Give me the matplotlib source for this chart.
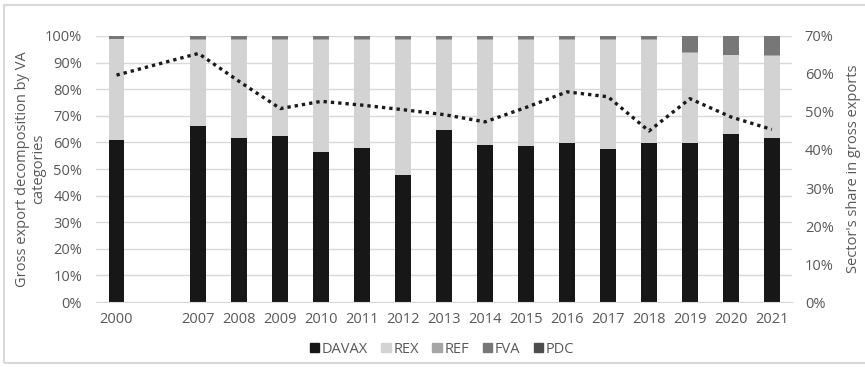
import matplotlib
matplotlib.use("Agg")
import matplotlib.pyplot as plt
import matplotlib.patches as mpatches
import numpy as np

plt.rcParams['font.family'] = ['Open Sans', 'DejaVu Sans']

# categories (blank slot between 2000 and 2007, as in the original)
years = ['2000', '', '2007', '2008', '2009', '2010', '2011', '2012', '2013', '2014',
         '2015', '2016', '2017', '2018', '2019', '2020', '2021']

# shares in %, None = empty slot
davax = [60.8, None, 66.3, 61.6, 62.5, 56.5, 57.9, 47.7, 64.8, 59.0, 58.6, 59.8, 57.7, 59.8, 59.8, 63.3, 61.8]
rex = [37.9, None, 32.2, 37.0, 35.9, 42.0, 40.6, 50.8, 33.7, 39.5, 39.9, 38.7, 40.8, 38.6, 33.9, 29.4, 30.7]
ref = [0.3, None, 0.3, 0.3, 0.3, 0.3, 0.3, 0.3, 0.3, 0.3, 0.3, 0.3, 0.3, 0.3, 0.3, 0.3, 0.3]
fva = [0.9, None, 1.1, 1.0, 1.2, 1.1, 1.1, 1.1, 1.1, 1.1, 1.1, 1.1, 1.1, 1.2, 5.9, 6.9, 7.1]
pdc = [0.1, None, 0.1, 0.1, 0.1, 0.1, 0.1, 0.1, 0.1, 0.1, 0.1, 0.1, 0.1, 0.1, 0.1, 0.1, 0.1]

# sector's share in gross exports (right axis)
share = [59.7, None, 65.4, 58.0, 50.9, 52.8, 51.8, 50.6, 49.3, 47.4, 51.2, 55.3, 54.0, 45.0, 53.5, 48.7, 45.4]

series = [('DAVAX', davax, '#171717'),
          ('REX', rex, '#d3d3d3'),
          ('REF', ref, '#a6a6a6'),
          ('FVA', fva, '#777777'),
          ('PDC', pdc, '#4d4d4d')]

grey = '#595959'
fs = 10.5

fig = plt.figure(figsize=(8.65, 3.67), dpi=100)
ax = fig.add_axes([0.111, 0.177, 0.805, 0.725])

x = np.arange(len(years))
bottom = np.zeros(len(years))
handles = []
for name, vals, col in series:
    v = np.array([np.nan if a is None else a for a in vals], dtype=float)
    ax.bar(x, np.nan_to_num(v), 0.39, bottom=bottom, color=col, zorder=2)
    bottom += np.nan_to_num(v)
    handles.append(mpatches.Patch(color=col, label=name))

ax.set_ylim(0, 100)
ax.set_xlim(-0.5, len(years) - 0.5)
ax.set_yticks(range(0, 101, 10))
ax.set_yticklabels([str(t) + '%' for t in range(0, 101, 10)])
ax.set_xticks(x)
ax.set_xticklabels(years)
ax.grid(axis='y', color='#d9d9d9', lw=1, zorder=0)
for s in ['top', 'right', 'left']:
    ax.spines[s].set_visible(False)
ax.spines['bottom'].set_color('#d9d9d9')
ax.tick_params(axis='both', length=0, colors=grey, labelsize=fs)
ax.tick_params(axis='x', pad=7)
ax.tick_params(axis='y', pad=10)
ax.set_ylabel('Gross export decomposition by VA\ncategories', color=grey, fontsize=fs,
              linespacing=1.05)
ax.yaxis.set_label_coords(-0.072, 0.5)

ax2 = ax.twinx()
sx = [i for i, s in zip(x, share) if s is not None]
sy = [s for s in share if s is not None]
ax2.plot(sx, sy, linestyle=(0, (1, 1.2)), color='#1a1a1a', lw=2.4, zorder=3)
ax2.set_ylim(0, 70)
ax2.set_yticks(range(0, 71, 10))
ax2.set_yticklabels([str(t) + '%' for t in range(0, 71, 10)])
for s in ['top', 'right', 'left', 'bottom']:
    ax2.spines[s].set_visible(False)
ax2.tick_params(axis='y', length=0, colors=grey, labelsize=fs, pad=9)
ax2.set_ylabel("Sector's share in gross exports", color=grey, fontsize=fs, labelpad=9)

fig.legend(handles=handles, loc='center', bbox_to_anchor=(0.511, 0.049), ncol=5,
           frameon=False, fontsize=fs, handlelength=0.65, handleheight=0.65,
           handletextpad=0.2, columnspacing=0.9, labelcolor=grey)

# light frame around the chart
fig.patches.append(mpatches.Rectangle((0.005, 0.011), 1.1, 0.975, transform=fig.transFigure,
                                      fill=False, edgecolor='#d9d9d9', lw=1.5))

fig.savefig('out.png', dpi=100)
